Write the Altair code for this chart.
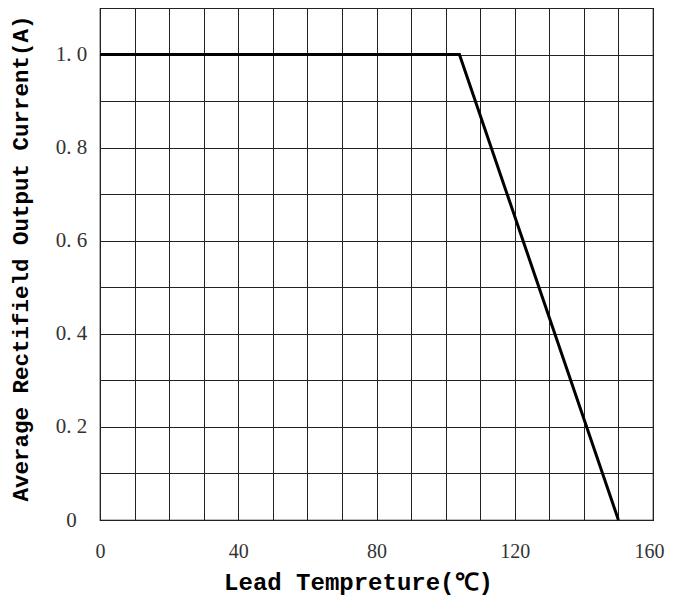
import altair as alt
import pandas as pd

# Derating curve points
temps = [0, 104, 150]
currents = [1.0, 1.0, 0.0]

x_ticks = [0, 10, 20, 30, 40, 50, 60, 70, 80, 90, 100, 110, 120, 130, 140, 150, 160]
y_ticks = [0.0, 0.1, 0.2, 0.3, 0.4, 0.5, 0.6, 0.7, 0.8, 0.9, 1.0, 1.1]

df = pd.DataFrame({"t": temps, "i": currents})

label_font = "Liberation Serif"
title_font = "Liberation Mono"

chart = alt.Chart(df).mark_line(color="black", strokeWidth=3, strokeJoin="miter").encode(
    x=alt.X("t:Q",
            scale=alt.Scale(domain=[0, 160], nice=False, zero=False),
            axis=alt.Axis(values=x_ticks, grid=True, gridColor="#222", gridWidth=1, gridOpacity=1,
                          ticks=False, domain=False,
                          labelExpr="datum.value % 40 == 0 ? datum.label : ''",
                          labelOffset=alt.ExprRef("datum.value == 160 ? -4 : 0"),
                          labelFont=label_font, labelFontSize=20, labelColor="#333",
                          labelPadding=21, labelFlush=False,
                          title="Lead Tempreture(℃)", titleFont=title_font, titleFontSize=24,
                          titleFontWeight="bold", titleColor="black", titlePadding=9,
                          titleX=258, titleAnchor="middle")),
    y=alt.Y("i:Q",
            scale=alt.Scale(domain=[0, 1.1], nice=False, zero=False),
            axis=alt.Axis(values=y_ticks, grid=True, gridColor="#222", gridWidth=1, gridOpacity=1,
                          ticks=False, domain=False,
                          labelExpr="round(datum.value*10) % 2 == 0 && datum.value < 1.05 ? (datum.value == 0 ? '0' : replace(format(datum.value, '.1f'), '.', '. ')) : ''",
                          labelFont=label_font, labelFontSize=21, labelColor="#333",
                          labelPadding=29, labelFlush=False, labelAlign="center",
                          title="Average Rectifield Output Current(A)", titleFont=title_font,
                          titleFontSize=22.5, titleFontWeight="bold", titleColor="black",
                          titleX=-68, titleY=250, titleAnchor="middle")),
).properties(
    width=553, height=512,
    autosize=alt.AutoSizeParams(type="none"),
    padding={"left": 92, "top": 0, "right": 13, "bottom": 77},
).configure_view(stroke="black", strokeWidth=1.2)

chart.save("out.html", embed_options={"renderer": "svg", "actions": False})
